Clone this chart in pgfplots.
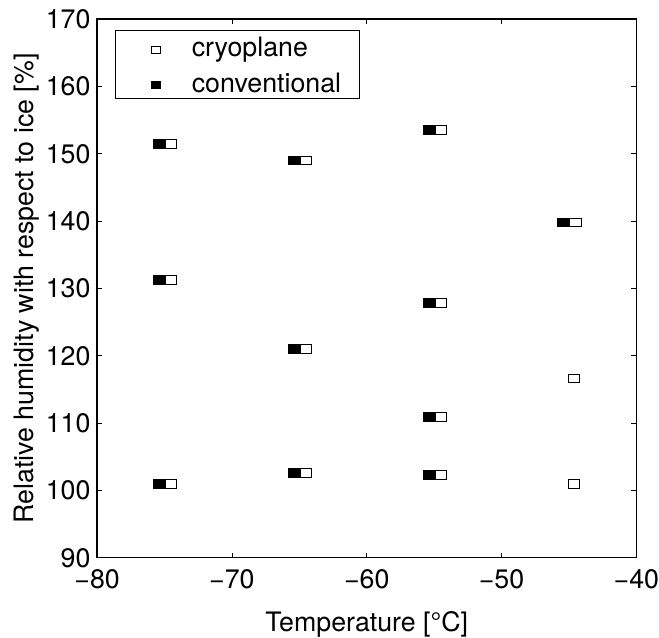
\documentclass[border=0pt]{standalone}
\usepackage{fontspec}
\setmainfont{TeX Gyre Heros}
\usepackage{pgfplots}
\pgfplotsset{compat=1.18}

\begin{document}
\begin{tikzpicture}[font=\fontsize{13.5bp}{16bp}\selectfont]
\begin{axis}[
  scale only axis,
  width=272bp, height=271.7bp,
  xmin=-80, xmax=-40, ymin=90, ymax=170,
  xtick={-80,-70,-60,-50,-40},
  ytick={90,100,110,120,130,140,150,160,170},
  xticklabels={−80,−70,−60,−50,−40},
  yticklabels={90,100,110,120,130,140,150,160,170},
  axis line style={line width=0.7bp},
  tick style={line width=0.4bp, black},
  major tick length=2.5bp,
  tick align=inside,
  xticklabel style={anchor=north, inner sep=0pt, yshift=-5.6bp},
  yticklabel style={anchor=east, inner sep=0pt, xshift=-3.2bp},
  xlabel={Temperature [°C]},
  ylabel={Relative humidity with respect to ice [\%]},
  xlabel style={at={(axis description cs:0.5,0)}, anchor=base, yshift=-37.15bp, inner sep=0pt},
  ylabel style={at={(axis description cs:-0.11875,0.5)}, anchor=base, inner sep=0pt},
  legend style={at={(axis description cs:0.0325,0.979)}, anchor=north west,
    draw=black, line width=0.5bp, inner xsep=0pt, inner ysep=0pt, row sep=1.55bp,
    cells={anchor=west},
    nodes={inner sep=0pt, text height=9.55bp, text depth=2.85bp, text width=84.85bp, align=left}},
  legend image code/.code={
    \path[draw=none, fill=none] (-20.5bp,-6.65bp) rectangle (18.15bp,9.65bp);
    \draw[#1, mark size=1.75bp, mark options={xscale=1.29, line width=0.5bp}] plot coordinates {(0bp,0bp)};
  },
]
% cryoplane (open)
\addplot[only marks, mark=square*, draw=black, fill=white, mark size=2.2bp,
  mark options={xscale=1.3, line width=0.5bp}] coordinates {
  (-74.5,151.4) (-74.5,131.2) (-74.5,100.9)
  (-64.5,149.0) (-64.5,121.0) (-64.5,102.6)
  (-54.5,153.5) (-54.5,127.8) (-54.5,110.9) (-54.5,102.3)
  (-44.5,139.8) (-44.6,116.6) (-44.6,101.0)
};
\addlegendentry{cryoplane}
% conventional (filled)
\addplot[only marks, mark=square*, draw=black, fill=black, mark size=2.2bp,
  mark options={xscale=1.3, line width=0.5bp}] coordinates {
  (-75.4,151.4) (-75.4,131.2) (-75.4,100.9)
  (-65.4,149.0) (-65.4,121.0) (-65.4,102.6)
  (-55.4,153.5) (-55.4,127.8) (-55.4,110.9) (-55.4,102.3)
  (-45.4,139.8)
};
\addlegendentry{conventional}
\end{axis}
\path (-49bp,-39.15bp) rectangle (280.5bp,281.35bp);
\end{tikzpicture}
\end{document}
